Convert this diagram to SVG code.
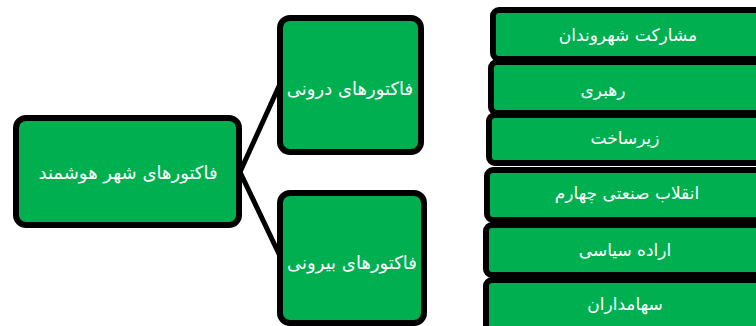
<svg xmlns="http://www.w3.org/2000/svg" width="756" height="326" viewBox="0 0 756 326">
<style>
.box{fill:#00B050;stroke:#000;stroke-width:6}
.t{fill:#fff;font-family:"DejaVu Sans",sans-serif;font-size:17px;text-anchor:middle;dominant-baseline:central}
.tl{font-size:18px}
.c{stroke:#000;stroke-width:5;fill:none}
</style>
<rect width="756" height="326" fill="#fff"/>
<g id="connectors">
<path class="c" d="M240,172 L280,84"/>
<path class="c" d="M240,172 L280,256"/>
</g>
<g id="n-main"><rect class="box" x="16" y="118" width="223" height="107" rx="10"/><text class="t tl" x="128" y="172">فاکتورهای شهر هوشمند</text></g>
<g id="n-inner"><rect class="box" x="280" y="18" width="141" height="134" rx="10"/><text class="t tl" x="350" y="88">فاکتورهای درونی</text></g>
<g id="n-outer"><rect class="box" x="280" y="193" width="144" height="130" rx="10"/><text class="t tl" x="352" y="262">فاکتورهای بیرونی</text></g>
<g id="n-r1"><rect class="box" x="493" y="10" width="280" height="49" rx="6"/><text class="t" x="628" y="35">مشارکت شهروندان</text></g>
<g id="n-r2"><rect class="box" x="491" y="62" width="280" height="51" rx="6"/><text class="t" x="603" y="90">رهبری</text></g>
<g id="n-r3"><rect class="box" x="489" y="115" width="280" height="48" rx="6"/><text class="t" x="625" y="138">زیرساخت</text></g>
<g id="n-r4"><rect class="box" x="487" y="170" width="280" height="50" rx="6"/><text class="t" x="627" y="193">انقلاب صنعتی چهارم</text></g>
<g id="n-r5"><rect class="box" x="486" y="225" width="280" height="50" rx="6"/><text class="t" x="625" y="250">اراده سیاسی</text></g>
<g id="n-r6"><rect class="box" x="486" y="280" width="280" height="60" rx="6"/><text class="t" x="625" y="304">سهامداران</text></g>
</svg>
